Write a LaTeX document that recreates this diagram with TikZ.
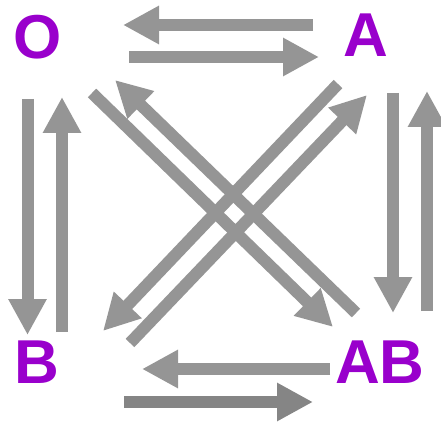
\documentclass[tikz,border=0pt]{standalone}
\usepackage{xcolor}
\usepackage{fontspec}
\setmainfont{Liberation Sans}
\usepackage{tikz}
\usetikzlibrary{arrows.meta}

\definecolor{statepurple}{HTML}{9900CC}
\definecolor{arrowgray}{HTML}{959595}
\definecolor{darkgray}{HTML}{858585}

\begin{document}
\begin{tikzpicture}[x=1pt,y=-1pt,
  state/.style={inner sep=0pt,text=statepurple,font=\bfseries\fontsize{62}{62}\selectfont},
  flow/.style={color=arrowgray,line width=12pt,-{Triangle[width=36pt,length=36pt]}}]
		\useasboundingbox (0,0) rectangle (441,422);
		
		\node[state] (O) at (38,37) {O};
		\node[state] (A) at (366,35) {A};
		\node[state] (B) at (37,362) {B};
		\node[state] (AB) at (380,362) {AB};
		
		% ends of the arrows
		\coordinate (ao-s) at (313,25);  \coordinate (ao-e) at (123,25);
		\coordinate (oa-s) at (129,57);  \coordinate (oa-e) at (319,57);
		\coordinate (abb-s) at (330,369); \coordinate (abb-e) at (142,369);
		\coordinate (bab-s) at (124,402); \coordinate (bab-e) at (313,402);
		\coordinate (ob-s) at (27.5,99); \coordinate (ob-e) at (27.5,335);
		\coordinate (bo-s) at (62,332);  \coordinate (bo-e) at (62,97);
		\coordinate (aab-s) at (393,93); \coordinate (aab-e) at (393,313);
		\coordinate (aba-s) at (427,311); \coordinate (aba-e) at (427,91);
		\coordinate (oab-s) at (92,93);  \coordinate (oab-e) at (333,327);
		\coordinate (abo-s) at (356,313); \coordinate (abo-e) at (115,80);
		\coordinate (ab-s) at (338,84);  \coordinate (ab-e) at (103,331);
		\coordinate (ba-s) at (130,343); \coordinate (ba-e) at (367,95);
		
		\draw[flow] (ao-s) -- (ao-e);
		\draw[flow] (oa-s) -- (oa-e);
		\draw[flow] (abb-s) -- (abb-e);
		\draw[flow,color=darkgray] (bab-s) -- (bab-e);
		\draw[flow] (ob-s) -- (ob-e);
		\draw[flow] (bo-s) -- (bo-e);
		\draw[flow] (aab-s) -- (aab-e);
		\draw[flow] (aba-s) -- (aba-e);
		\draw[flow] (oab-s) -- (oab-e);
		\draw[flow] (abo-s) -- (abo-e);
		\draw[flow] (ab-s) -- (ab-e);
		\draw[flow] (ba-s) -- (ba-e);
	\end{tikzpicture}
\end{document}
